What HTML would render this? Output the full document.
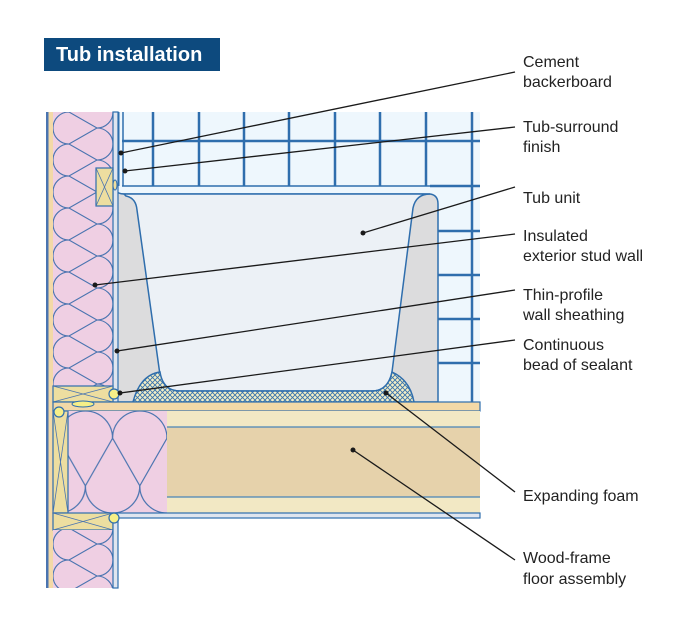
<!DOCTYPE html>
<html><head><meta charset="utf-8"><style>
html,body{margin:0;padding:0;background:#fff}
svg{display:block}
text{font-family:"Liberation Sans",sans-serif}
</style></head><body>
<svg width="700" height="624" viewBox="0 0 700 624" xmlns="http://www.w3.org/2000/svg">
<defs>
<pattern id="batt" x="53" y="112" width="60" height="32" patternUnits="userSpaceOnUse">
<rect width="60" height="32" fill="#efcfe3"/>
<path d="M16,0 L44,16 L16,32 M16,0 L44,-16 M16,32 L44,48 M16,0 A16,16 0 0 0 16,32 M44,-16 A16,16 0 0 1 44,16 M44,16 A16,16 0 0 1 44,48" fill="none" stroke="#4a74b0" stroke-width="1.1"/>
</pattern>
<pattern id="batt2" width="60" height="32" patternUnits="userSpaceOnUse" patternTransform="translate(167,411) rotate(90) scale(1.7)">
<rect width="60" height="32" fill="#efcfe3"/>
<path d="M16,0 L44,16 L16,32 M16,0 L44,-16 M16,32 L44,48 M16,0 A16,16 0 0 0 16,32 M44,-16 A16,16 0 0 1 44,16 M44,16 A16,16 0 0 1 44,48" fill="none" stroke="#4a74b0" stroke-width="0.7"/>
</pattern>
<pattern id="foam" width="5" height="5" patternUnits="userSpaceOnUse">
<rect width="5" height="5" fill="#f4efc6"/>
<path d="M0,0 L5,5 M5,0 L0,5" stroke="#3a73ad" stroke-width="0.9"/>
</pattern>
</defs>

<rect x="44" y="38" width="176" height="33" fill="#0d4a7e"/>
<text x="56" y="61" font-size="20" font-weight="bold" fill="#fff">Tub installation</text>

<rect x="118" y="112" width="362" height="290" fill="#eef7fd"/>
<g stroke="#2f6ead" stroke-width="2.5">
<line x1="153" y1="112" x2="153" y2="186"/><line x1="199" y1="112" x2="199" y2="186"/>
<line x1="244" y1="112" x2="244" y2="186"/><line x1="289" y1="112" x2="289" y2="186"/>
<line x1="335" y1="112" x2="335" y2="186"/><line x1="380" y1="112" x2="380" y2="186"/>
<line x1="426" y1="112" x2="426" y2="186"/><line x1="472" y1="112" x2="472" y2="402"/>
<line x1="122" y1="141" x2="480" y2="141"/>
<line x1="438" y1="231" x2="480" y2="231"/><line x1="438" y1="275" x2="480" y2="275"/>
<line x1="438" y1="319" x2="480" y2="319"/><line x1="438" y1="363" x2="480" y2="363"/>
<line x1="430" y1="186" x2="480" y2="186"/>
</g>
<line x1="123" y1="112" x2="123" y2="186" stroke="#2f6ead" stroke-width="1.5"/>
<line x1="119" y1="112" x2="119" y2="186" stroke="#2f6ead" stroke-width="1"/>
<line x1="122" y1="186" x2="430" y2="186" stroke="#2f6ead" stroke-width="1.5"/>

<path d="M115,190 Q118,194 124,194 L430,194 Q438,195 438,204 L438,402 L115,402 Z" fill="#dcdcdd" stroke="#2f6ead" stroke-width="1.5"/>
<path d="M124,194 L126,196 Q136,198 137,210 L160,375 Q163,391 180,391 L372,391 Q388,391 392,372 L413,208 Q416,194 430,194 Z" fill="#ecf1f6" stroke="#2f6ead" stroke-width="1.5"/>
<path d="M133,402 Q140,375 160,372 Q163,391 180,391 L372,391 Q388,391 392,372 Q410,380 414,402 Z" fill="url(#foam)" stroke="#2f6ead" stroke-width="1.5"/>

<rect x="46" y="112" width="2.5" height="476" fill="#4a74b0"/>
<rect x="48.5" y="112" width="4.5" height="476" fill="#f3d9a7"/>
<rect x="53" y="112" width="60" height="274" fill="url(#batt)"/>
<rect x="113" y="112" width="5" height="290" fill="#dfe5ef" stroke="#2f6ead" stroke-width="1.2"/>
<rect x="96" y="168" width="17" height="38" fill="#eddea0" stroke="#2f6ead" stroke-width="1.2"/>
<path d="M96,168 L113,206 M113,168 L96,206" stroke="#4a74b0" stroke-width="0.8"/>
<ellipse cx="115" cy="185" rx="2" ry="5" fill="#eddea0" stroke="#2f6ead"/>
<rect x="53" y="386" width="60" height="16" fill="#eddea0" stroke="#2f6ead" stroke-width="1.2"/>
<path d="M53,386 L113,402 M113,386 L53,402" stroke="#4a74b0" stroke-width="0.8"/>
<circle cx="114" cy="394" r="5" fill="#f6ef88" stroke="#2f6ead" stroke-width="1.2"/>
<rect x="53" y="402" width="427" height="9" fill="#f3d9a7" stroke="#2f6ead" stroke-width="1.2"/>
<ellipse cx="83" cy="404" rx="11" ry="3" fill="#f6ef88" stroke="#2f6ead"/>
<rect x="68" y="411" width="412" height="102" fill="#f2e8c4"/>
<rect x="68" y="427" width="412" height="70" fill="#e6d2ab"/>
<line x1="68" y1="427" x2="480" y2="427" stroke="#4a84b8" stroke-width="1.2"/>
<line x1="68" y1="497" x2="480" y2="497" stroke="#4a84b8" stroke-width="1.2"/>
<rect x="68" y="411" width="99" height="102" fill="url(#batt2)"/>
<rect x="113" y="513" width="367" height="5" fill="#dfe5ef" stroke="#2f6ead" stroke-width="1.2"/>
<rect x="53" y="411" width="15" height="102" fill="#eddea0" stroke="#2f6ead" stroke-width="1.2"/>
<path d="M53,411 L68,513 M68,411 L53,513" stroke="#4a74b0" stroke-width="0.8"/>
<circle cx="59" cy="412" r="5" fill="#f6ef88" stroke="#2f6ead" stroke-width="1.2"/>
<rect x="53" y="513" width="60" height="17" fill="#eddea0" stroke="#2f6ead" stroke-width="1.2"/>
<path d="M53,513 L113,530 M113,513 L53,530" stroke="#4a74b0" stroke-width="0.8"/>
<rect x="53" y="530" width="60" height="58" fill="url(#batt)"/>
<rect x="113" y="518" width="5" height="70" fill="#dfe5ef" stroke="#2f6ead" stroke-width="1.2"/>
<circle cx="114" cy="518" r="5" fill="#f6ef88" stroke="#2f6ead" stroke-width="1.2"/>

<g stroke="#1a1a1a" stroke-width="1.3" fill="none">
<line x1="121" y1="153" x2="515" y2="72"/>
<line x1="125" y1="171" x2="515" y2="127"/>
<line x1="363" y1="233" x2="515" y2="187"/>
<line x1="95" y1="285" x2="515" y2="234"/>
<line x1="117" y1="351" x2="515" y2="290"/>
<line x1="120" y1="393" x2="515" y2="340"/>
<line x1="386" y1="393" x2="515" y2="492"/>
<line x1="353" y1="450" x2="515" y2="560"/>
</g>
<g fill="#1a1a1a">
<circle cx="121" cy="153" r="2.5"/><circle cx="125" cy="171" r="2.5"/>
<circle cx="363" cy="233" r="2.5"/><circle cx="95" cy="285" r="2.5"/>
<circle cx="117" cy="351" r="2.5"/><circle cx="120" cy="393" r="2.5"/>
<circle cx="386" cy="393" r="2.5"/><circle cx="353" cy="450" r="2.5"/>
</g>

<g font-size="16" fill="#222">
<text x="523" y="67">Cement</text><text x="523" y="87">backerboard</text>
<text x="523" y="132">Tub-surround</text><text x="523" y="152">finish</text>
<text x="523" y="203">Tub unit</text>
<text x="523" y="241">Insulated</text><text x="523" y="261">exterior stud wall</text>
<text x="523" y="300">Thin-profile</text><text x="523" y="320">wall sheathing</text>
<text x="523" y="350">Continuous</text><text x="523" y="370">bead of sealant</text>
<text x="523" y="501">Expanding foam</text>
<text x="523" y="563">Wood-frame</text><text x="523" y="584">floor assembly</text>
</g>
</svg>
</body></html>
